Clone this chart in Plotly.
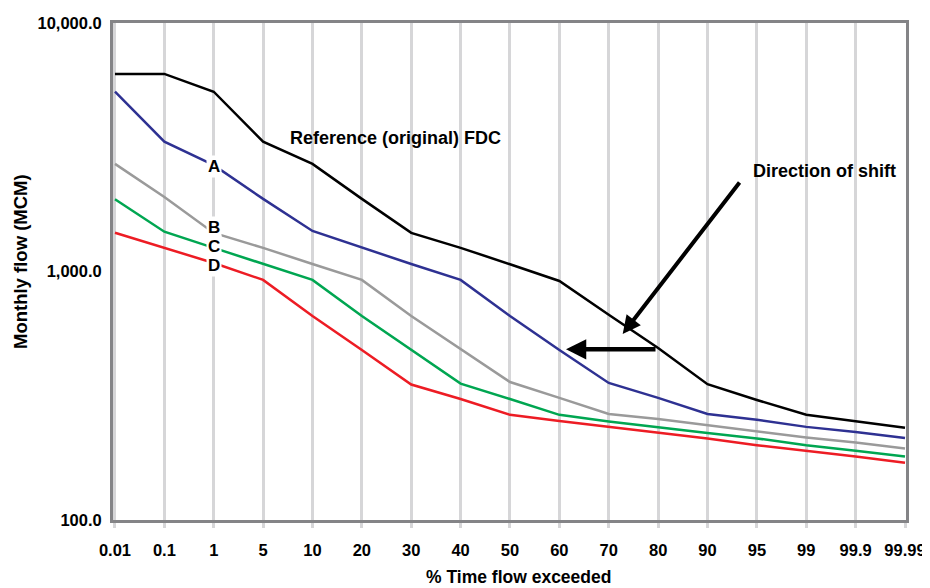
import plotly.graph_objects as go

categories = ["0.01", "0.1", "1", "5", "10", "20", "30", "40", "50",
              "60", "70", "80", "90", "95", "99", "99.9", "99.99"]

reference = [6240, 6240, 5290, 3330, 2710, 1960, 1430, 1245, 1070,
             916, 670, 492, 352, 304, 265, 249, 235]
curve_a = [5290, 3330, 2680, 1960, 1456, 1245, 1072, 925, 662,
           483, 356, 310, 267, 253, 237, 226, 214]
curve_b = [2710, 1995, 1430, 1245, 1072, 925, 662, 488, 359,
           310, 267, 255, 241, 227, 215, 205, 194]
curve_c = [1952, 1446, 1245, 1072, 925, 662, 483, 354, 307,
           265, 249, 237, 224, 213, 200, 190, 180]
curve_d = [1432, 1245, 1082, 925, 662, 483, 351, 307, 265,
           250, 237, 226, 213, 200, 190, 180, 170]

y_ticks = [100, 1000, 10000]
y_tick_text = ["100.0", "1,000.0", "10,000.0"]

series = [
    ("Reference (original) FDC", reference, "#000000"),
    ("A", curve_a, "#2e3192"),
    ("B", curve_b, "#9a9a9a"),
    ("C", curve_c, "#00a651"),
    ("D", curve_d, "#ed1c24"),
]

xi = list(range(len(categories)))
FONT = "Liberation Sans, Arial, sans-serif"

# the page body has an 8px margin; plot area in page pixels: 113..906 x 23..520
def px_x(p):
    return (p - 115) / 49.375

def px_y(p):
    return 4 - (p - 23) / 248.5

fig = go.Figure()
for name, vals, col in series:
    fig.add_trace(go.Scatter(x=xi, y=vals, mode="lines", name=name,
                             line=dict(color=col, width=2.5),
                             hoverinfo="skip"))

ann = []
for letter, py in [("A", 166), ("B", 227), ("C", 246.5), ("D", 265.5)]:
    ann.append(dict(x=2, y=px_y(py), xref="x", yref="y",
                    text="<b>%s</b>" % letter, showarrow=False,
                    font=dict(size=17, color="#000", family=FONT),
                    bgcolor="white", borderpad=1))

ann.append(dict(x=px_x(396), y=px_y(138), xref="x", yref="y",
                text="<b>Reference (original) FDC</b>", showarrow=False,
                font=dict(size=18, color="#000", family=FONT)))
ann.append(dict(x=px_x(824), y=px_y(171), xref="x", yref="y",
                text="<b>Direction of shift</b>", showarrow=False,
                font=dict(size=18, color="#000", family=FONT)))
# arrows
ann.append(dict(x=px_x(622.7), y=px_y(334), xref="x", yref="y",
                ax=118, ay=-153, axref="pixel", ayref="pixel", text="",
                showarrow=True, arrowhead=2, arrowsize=0.9, arrowwidth=4,
                arrowcolor="#000"))
ann.append(dict(x=px_x(566), y=px_y(349.3), xref="x", yref="y",
                ax=91, ay=0, axref="pixel", ayref="pixel", text="",
                showarrow=True, arrowhead=2, arrowsize=0.9, arrowwidth=4.5,
                arrowcolor="#000"))
# axis titles
ann.append(dict(x=(518 - 113) / 793, y=-(577 - 520) / 497, xref="paper", yref="paper",
                xanchor="center", yanchor="middle",
                text="<b>% Time flow exceeded</b>", showarrow=False,
                font=dict(size=17.5, color="#000", family=FONT)))
ann.append(dict(x=-(113 - 20) / 793, y=(520 - 262) / 497, xref="paper", yref="paper",
                xanchor="center", yanchor="middle",
                text="<b>Monthly flow (MCM)</b>", showarrow=False, textangle=-90,
                font=dict(size=18.5, color="#000", family=FONT)))

fig.update_layout(
    width=922, height=580,
    margin=dict(l=105, r=24, t=15, b=68, autoexpand=False),
    paper_bgcolor="white", plot_bgcolor="white",
    showlegend=False,
    annotations=ann,
    font=dict(family=FONT, color="#000"),
)
fig.update_xaxes(
    range=[-0.04, 16.02], tickvals=xi,
    ticktext=["<b>%s</b>" % c for c in categories],
    tickfont=dict(size=16.5, color="#000", family=FONT),
    showgrid=True, gridcolor="#d6d6d8", gridwidth=3,
    ticks="outside", ticklen=5, tickwidth=3, tickcolor="#d6d6d8",
    ticklabelstandoff=8,
    showline=True, linecolor="#848487", linewidth=3, mirror=True,
    zeroline=False,
)
fig.update_yaxes(
    type="log", range=[2, 4], tickvals=y_ticks,
    ticktext=["<b>%s</b>" % t for t in y_tick_text],
    tickfont=dict(size=16.5, color="#000", family=FONT),
    showgrid=False, ticks="", ticklabelstandoff=5,
    showline=True, linecolor="#848487", linewidth=3, mirror=True,
    zeroline=False,
)

fig.write_html("out.html")
